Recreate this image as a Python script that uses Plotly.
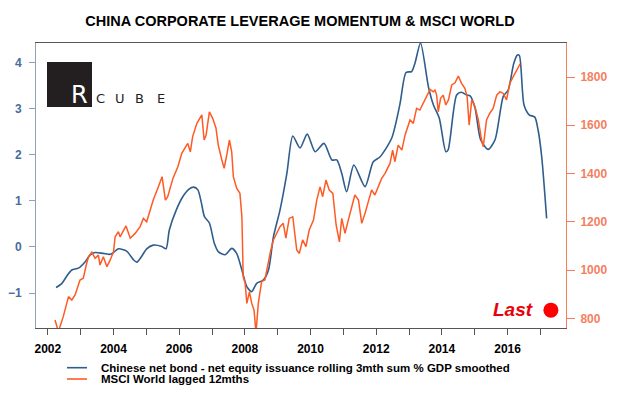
import plotly.graph_objects as go

# ---------------- data ----------------
china_years = [2002.25, 2002.43, 2002.58, 2002.73, 2002.93, 2003.14, 2003.29, 2003.44, 2003.69, 2003.90,
               2004.00, 2004.15, 2004.40, 2004.61, 2004.71, 2004.86, 2005.01, 2005.21, 2005.47, 2005.60,
               2005.70, 2005.91, 2006.11, 2006.29, 2006.44, 2006.57, 2006.67, 2006.77, 2006.92, 2007.07,
               2007.19, 2007.40, 2007.60, 2007.75, 2007.91, 2008.06, 2008.21, 2008.36, 2008.56, 2008.72,
               2008.87, 2009.07, 2009.28, 2009.46, 2009.68, 2009.90, 2010.14, 2010.41, 2010.65, 2010.80,
               2010.95, 2011.10, 2011.32, 2011.66, 2011.91, 2012.12, 2012.47, 2012.72, 2012.91, 2013.08,
               2013.18, 2013.35, 2013.59, 2013.74, 2013.92, 2014.12, 2014.19, 2014.45, 2014.60, 2014.75,
               2014.86, 2015.01, 2015.18, 2015.41, 2015.62, 2015.87, 2016.02, 2016.19, 2016.30, 2016.36,
               2016.50, 2016.66, 2016.83, 2016.93, 2017.04, 2017.19]
china_values = [-0.88, -0.79, -0.63, -0.50, -0.46, -0.32, -0.17, -0.12, -0.14, -0.16,
                -0.12, -0.04, -0.09, -0.28, -0.33, -0.20, -0.04, 0.04, 0.01, -0.04,
                0.37, 0.80, 1.09, 1.25, 1.30, 1.24, 0.98, 0.66, 0.52, 0.08,
                -0.10, -0.17, -0.03, -0.14, -0.50, -0.86, -0.97, -0.79, -0.72, -0.50,
                0.22, 0.80, 1.60, 2.41, 2.15, 2.45, 2.07, 2.25, 1.89, 1.89,
                1.60, 1.20, 1.78, 1.31, 1.85, 1.96, 2.36, 3.09, 3.79, 3.81,
                3.99, 4.43, 3.48, 3.09, 2.80, 2.07, 2.11, 3.30, 3.36, 3.30,
                3.28, 3.02, 2.33, 2.12, 2.33, 3.27, 3.41, 3.99, 4.17, 4.16,
                3.09, 2.87, 2.82, 2.54, 1.96, 0.62]

msci_years = [2002.22, 2002.32, 2002.47, 2002.63, 2002.73, 2002.83, 2002.98, 2003.08, 2003.17, 2003.24,
              2003.34, 2003.44, 2003.54, 2003.59, 2003.69, 2003.80, 2003.90, 2004.00, 2004.05, 2004.15,
              2004.20, 2004.30, 2004.38, 2004.51, 2004.66, 2004.81, 2004.91, 2005.01, 2005.11, 2005.21,
              2005.35, 2005.48, 2005.58, 2005.65, 2005.81, 2005.96, 2006.08, 2006.16, 2006.26, 2006.34,
              2006.41, 2006.54, 2006.61, 2006.69, 2006.76, 2006.82, 2006.92, 2007.02, 2007.12, 2007.19,
              2007.30, 2007.37, 2007.45, 2007.53, 2007.60, 2007.65, 2007.75, 2007.85, 2007.91, 2007.95,
              2008.01, 2008.06, 2008.14, 2008.21, 2008.28, 2008.34, 2008.41, 2008.51, 2008.61, 2008.72,
              2008.79, 2008.87, 2008.97, 2009.07, 2009.17, 2009.25, 2009.35, 2009.46, 2009.58, 2009.66,
              2009.76, 2009.86, 2009.96, 2010.09, 2010.19, 2010.29, 2010.37, 2010.47, 2010.57, 2010.68,
              2010.78, 2010.88, 2010.95, 2011.05, 2011.15, 2011.25, 2011.35, 2011.46, 2011.56, 2011.66,
              2011.76, 2011.86, 2011.96, 2012.06, 2012.17, 2012.27, 2012.42, 2012.50, 2012.57, 2012.67,
              2012.78, 2012.88, 2012.95, 2013.03, 2013.13, 2013.23, 2013.33, 2013.43, 2013.54, 2013.64,
              2013.74, 2013.79, 2013.84, 2013.89, 2013.96, 2014.04, 2014.12, 2014.20, 2014.30, 2014.40,
              2014.50, 2014.60, 2014.70, 2014.77, 2014.83, 2014.91, 2015.01, 2015.11, 2015.21, 2015.26,
              2015.36, 2015.46, 2015.56, 2015.67, 2015.77, 2015.87, 2015.97, 2016.07, 2016.17, 2016.28,
              2016.38]
msci_values = [793, 745, 807, 890, 876, 897, 959, 966, 1021, 1055,
               1074, 1049, 1062, 1021, 1055, 1014, 1042, 1076, 1138, 1159,
               1138, 1166, 1183, 1132, 1152, 1180, 1214, 1200, 1249, 1290,
               1339, 1387, 1290, 1304, 1380, 1428, 1484, 1500, 1525, 1490,
               1553, 1608, 1622, 1643, 1539, 1560, 1656, 1629, 1589, 1518,
               1456, 1422, 1477, 1539, 1490, 1387, 1339, 1318, 1221, 972,
               945, 862, 910, 862, 834, 740, 862, 952, 959, 1042,
               1083, 1125, 1152, 1180, 1194, 1132, 1214, 1221, 1083, 1069,
               1125, 1097, 1166, 1207, 1290, 1345, 1304, 1373, 1332, 1318,
               1187, 1117, 1214, 1152, 1207, 1263, 1311, 1290, 1194, 1235,
               1290, 1332, 1311, 1345, 1381, 1401, 1442, 1497, 1449, 1518,
               1497, 1560, 1587, 1622, 1608, 1670, 1663, 1691, 1718, 1749,
               1739, 1746, 1725, 1656, 1712, 1725, 1684, 1705, 1767, 1776,
               1804, 1774, 1753, 1718, 1601, 1705, 1677, 1622, 1539, 1511,
               1622, 1650, 1670, 1725, 1739, 1732, 1705, 1774, 1801, 1829,
               1854]

last_dot_year = [2017.32]
last_dot_value = [834]

x_tick_years = [2002, 2004, 2006, 2008, 2010, 2012, 2014, 2016]
left_ticks = [-1, 0, 1, 2, 3, 4]
right_ticks = [800, 1000, 1200, 1400, 1600, 1800]

title_text = "CHINA CORPORATE LEVERAGE MOMENTUM & MSCI WORLD"
legend_labels = ["Chinese net bond - net equity issuance rolling 3mth sum % GDP smoothed",
                 "MSCI World lagged 12mths"]

# ---------------- styles ----------------
BLUE = "#2f5d8c"
ORANGE = "#ff5a24"
LEFT_LBL = "#4a6c9b"
RIGHT_LBL = "#f47f5f"
FONT = "Liberation Sans"

# the page body adds an 8px offset; lay the figure out in screen pixels minus that offset
OFF = 8
W, H = 619 - OFF, 399 - OFF
PL, PR, PT, PB = 36, 566, 43, 328          # plot area in screen pixels
ML, MR, MT, MB = PL - OFF, W - (PR - OFF), PT - OFF, H - (PB - OFF)
PW, PH = PR - PL, PB - PT


def px(xs):
    return (xs - PL) / PW


def py(ys):
    return (PB - ys) / PH


fig = go.Figure()
fig.add_trace(go.Scatter(x=china_years, y=china_values, mode="lines",
                         line=dict(color=BLUE, width=1.6, shape="spline", smoothing=0.7),
                         name=legend_labels[0], showlegend=False, yaxis="y"))
fig.add_trace(go.Scatter(x=msci_years, y=msci_values, mode="lines",
                         line=dict(color=ORANGE, width=1.5),
                         name=legend_labels[1], showlegend=False, yaxis="y2"))
fig.add_trace(go.Scatter(x=last_dot_year, y=last_dot_value, mode="markers",
                         marker=dict(color="#ff0000", size=15), showlegend=False,
                         yaxis="y2", cliponaxis=False))

shapes = [
    dict(type="rect", xref="paper", yref="paper", x0=px(47), x1=px(92), y0=py(107), y1=py(62),
         fillcolor="#231f20", line=dict(width=0), layer="above"),
    dict(type="line", xref="paper", yref="paper", x0=px(67), x1=px(87), y0=py(367.7), y1=py(367.7),
         line=dict(color=BLUE, width=1.6)),
    dict(type="line", xref="paper", yref="paper", x0=px(67), x1=px(87), y0=py(379), y1=py(379),
         line=dict(color=ORANGE, width=1.6)),
]

annotations = [
    dict(text="R", xref="paper", yref="paper", x=px(79.5), y=py(94.5), showarrow=False,
         font=dict(family="DejaVu Sans", size=24, color="white"), xanchor="center", yanchor="middle"),
    dict(text=legend_labels[0], xref="paper", yref="paper", x=px(99), y=py(367.7), showarrow=False,
         font=dict(family=FONT, size=11.5, color="black", weight="bold"), xanchor="left", yanchor="middle"),
    dict(text=legend_labels[1], xref="paper", yref="paper", x=px(99), y=py(379), showarrow=False,
         font=dict(family=FONT, size=11.5, color="black", weight="bold"), xanchor="left", yanchor="middle"),
    dict(text="<b><i>Last</i></b>", xref="paper", yref="paper", x=px(513), y=py(309), showarrow=False,
         font=dict(family=FONT, size=19, color="#e8000b"), xanchor="center", yanchor="middle"),
]
for letter, cx in zip("CUBE", [100.8, 120.2, 139.5, 160.8]):
    annotations.append(dict(text=letter, xref="paper", yref="paper", x=px(cx), y=py(99),
                            showarrow=False, font=dict(family="DejaVu Sans", size=13, color="#231f20"),
                            xanchor="center", yanchor="middle"))

fig.update_layout(
    width=W, height=H,
    margin=dict(l=ML, r=MR, t=MT, b=MB, pad=0, autoexpand=False),
    paper_bgcolor="white", plot_bgcolor="white",
    title=dict(text=title_text, x=(300 - OFF) / W, xanchor="center", y=1 - (20.5 - OFF) / H,
               yanchor="middle",
               font=dict(family=FONT, size=14.5, color="black", weight="bold")),
    xaxis=dict(range=[2001.64, 2017.78], tickvals=x_tick_years, ticktext=[str(v) for v in x_tick_years],
               ticks="outside", ticklen=6, tickcolor="#555555", tickwidth=1,
               minor=dict(dtick=1, tick0=2002, ticks="outside", ticklen=6, tickcolor="#555555"),
               showline=True, linecolor="#555555", linewidth=1, mirror=True,
               showgrid=False, zeroline=False, ticklabelstandoff=4, automargin=False,
               tickfont=dict(family=FONT, size=12, color="black", weight="bold")),
    yaxis=dict(range=[-1.76, 4.43], tickvals=left_ticks, ticks="outside", ticklen=6,
               tickcolor="#8fa3b8", showline=True, linecolor="#8fa3b8", linewidth=1,
               showgrid=False, zeroline=False, ticklabelstandoff=5, automargin=False,
               tickfont=dict(family=FONT, size=12, color=LEFT_LBL, weight="bold")),
    yaxis2=dict(range=[760, 1941], tickvals=right_ticks, overlaying="y", side="right",
                ticks="outside", ticklen=8, tickcolor=RIGHT_LBL, showline=True, linecolor=RIGHT_LBL,
                linewidth=1, showgrid=False, zeroline=False, ticklabelstandoff=3, automargin=False,
                tickfont=dict(family=FONT, size=12, color=RIGHT_LBL, weight="bold")),
    shapes=shapes, annotations=annotations, showlegend=False,
)

fig.write_html("out.html")
